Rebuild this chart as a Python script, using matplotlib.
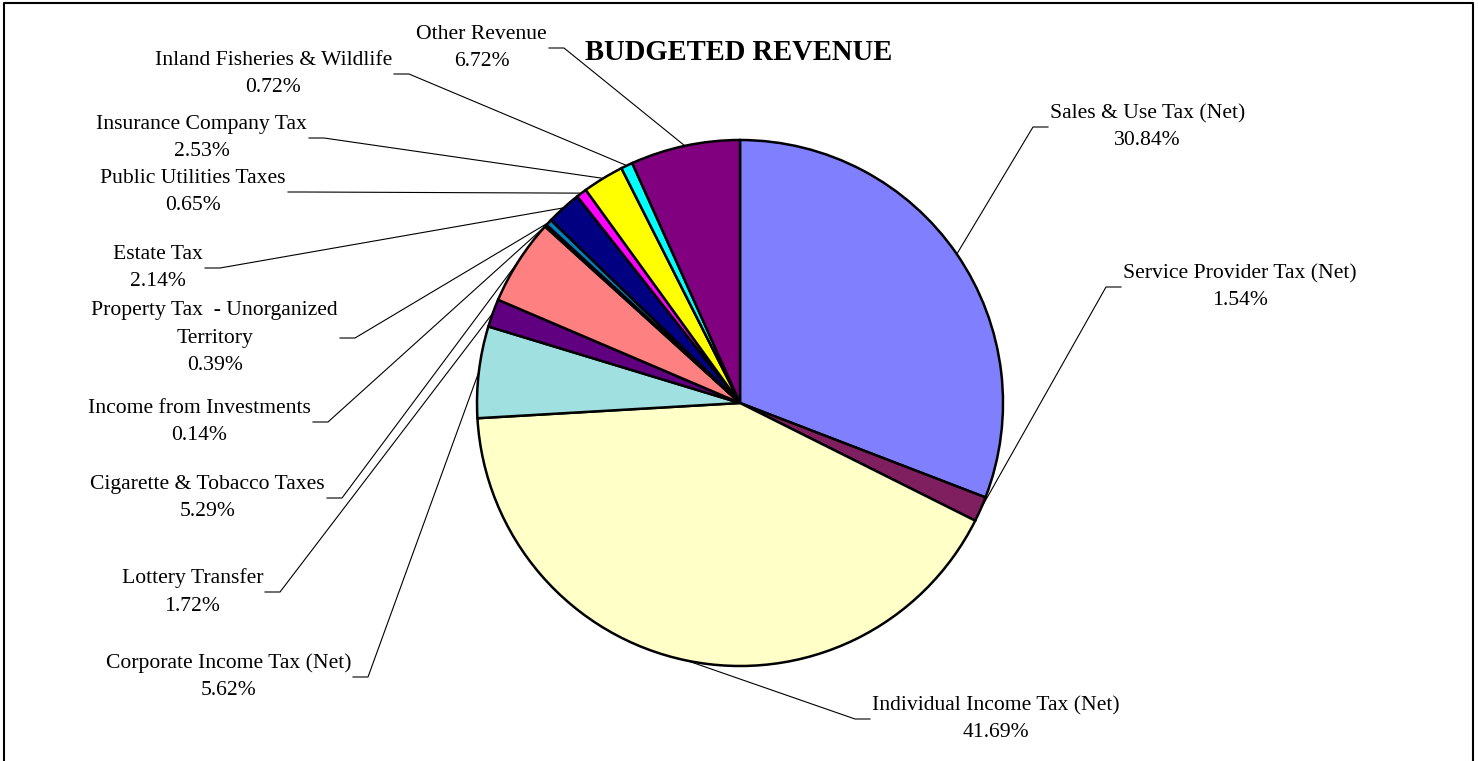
import numpy as np
import matplotlib.pyplot as plt

# slices, clockwise from 12 o'clock
categories = ["Sales & Use Tax (Net)", "Service Provider Tax (Net)",
              "Individual Income Tax (Net)", "Corporate Income Tax (Net)",
              "Lottery Transfer", "Cigarette & Tobacco Taxes",
              "Income from Investments", "Property Tax  - Unorganized\nTerritory",
              "Estate Tax", "Public Utilities Taxes", "Insurance Company Tax",
              "Inland Fisheries & Wildlife", "Other Revenue"]
shares = [30.84, 1.54, 41.69, 5.62, 1.72, 5.29, 0.14, 0.39, 2.14, 0.65, 2.53, 0.72, 6.72]
pct_labels = ["30.84%", "1.54%", "41.69%", "5.62%", "1.72%", "5.29%", "0.14%",
              "0.39%", "2.14%", "0.65%", "2.53%", "0.72%", "6.72%"]
colors = ["#8080FF", "#7F1F5F", "#FFFFC8", "#A0E0E0", "#600080", "#FF8080",
          "#C8C8FF", "#0080C0", "#000080", "#FF00FF", "#FFFF00", "#00FFFF", "#800080"]

W, H = 1478, 761
# label knee points (pixel coords, y down) and side of the text
knees = [(1033, 127, "r"), (1106, 287, "r"), (855, 719, "r"), (368, 677, "l"),
         (280, 592, "l"), (342, 498, "l"), (328, 422, "l"), (355, 338, "l"),
         (220, 268, "l"), (303, 192, "l"), (324, 138, "l"), (409, 74, "l"),
         (564, 48, "l")]

plt.rcParams['font.family'] = ['Liberation Serif', 'DejaVu Serif']

fig = plt.figure(figsize=(W / 100, H / 100), dpi=100)
ax = fig.add_axes([0, 0, 1, 1])

wedges, _ = ax.pie(shares, colors=colors, startangle=90, counterclock=False,
                   center=(740, H - 403), radius=263,
                   wedgeprops=dict(edgecolor="black", linewidth=1.8))

for w, name, pct, (kx, ky, side) in zip(wedges, categories, pct_labels, knees):
    mid = np.deg2rad((w.theta1 + w.theta2) / 2)
    ex = w.center[0] + w.r * np.cos(mid)
    ey = w.center[1] + w.r * np.sin(mid)
    ky = H - ky
    sgn = -1 if side == "l" else 1
    ax.plot([ex, kx, kx + sgn * 15], [ey, ky, ky], color="black", lw=0.8, zorder=0)
    ax.text(kx + sgn * 17, ky, name + "\n" + pct, fontsize=15.6,
            ha="right" if side == "l" else "left", va="center",
            multialignment="center", linespacing=1.58)

ax.text(739, H - 52, "BUDGETED REVENUE", fontsize=20.6, fontweight="bold",
        ha="center", va="center")

# chart frame
ax.plot([4, 4, 1473, 1473], [0, H - 3, H - 3, 0], color="black", lw=1.5)

ax.set_xlim(0, W)
ax.set_ylim(0, H)
ax.set_aspect("auto")
ax.set_axis_off()

fig.savefig("out.png", dpi=100)
